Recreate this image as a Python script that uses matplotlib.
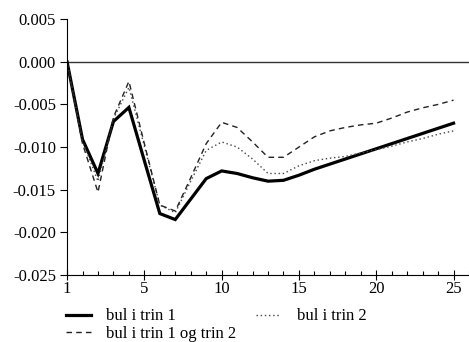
import numpy as np
import matplotlib
matplotlib.use('Agg')
import matplotlib.pyplot as plt
from matplotlib.ticker import MultipleLocator

plt.rcParams['font.family'] = ['Liberation Serif', 'DejaVu Serif']

periods = np.arange(26)

# bul i trin 1
trin1 = [0.0, -0.0091, -0.0131, -0.0070, -0.00535, -0.0116, -0.0178, -0.0185,
         -0.0161, -0.0137, -0.0128, -0.0131, -0.0136, -0.0140, -0.0139, -0.0133,
         -0.0126, -0.0120, -0.0114, -0.0108, -0.0102, -0.0096, -0.0090, -0.0084,
         -0.0078, -0.0072]

# bul i trin 2
trin2 = [0.0, -0.0093, -0.0140, -0.0067, -0.0030, -0.0099, -0.0168, -0.0177,
         -0.0140, -0.0104, -0.0094, -0.0100, -0.0114, -0.0131, -0.0131, -0.0122,
         -0.0116, -0.0113, -0.0111, -0.0107, -0.0103, -0.0099, -0.0094, -0.0090,
         -0.0085, -0.0081]

# bul i trin 1 og trin 2
trin12 = [0.0, -0.0096, -0.0153, -0.0065, -0.0023, -0.0096, -0.0168, -0.0175,
          -0.0136, -0.0096, -0.0071, -0.0077, -0.0094, -0.0112, -0.0112, -0.0100,
          -0.0088, -0.0081, -0.0077, -0.0074, -0.0072, -0.0066, -0.0059, -0.0054,
          -0.0050, -0.0045]

xtick_pos = [0, 5, 10, 15, 20, 25]
xtick_labels = ['1', '5', '10', '15', '20', '25']
ytick_vals = [0.005, 0.0, -0.005, -0.010, -0.015, -0.020, -0.025]
ytick_labels = ['0.005', '0.000', '-0.005', '-0.010', '-0.015', '-0.020', '-0.025']

fig = plt.figure(figsize=(4.69, 3.42), dpi=100)
ax = fig.add_axes([0.143, 0.196, 0.857, 0.748])

ax.axhline(0, color='#333333', lw=1.0, zorder=1)
l1, = ax.plot(periods, trin1, color='black', lw=2.3, solid_joinstyle='miter',
              label='bul i trin 1')
l2, = ax.plot(periods, trin2, color='#444444', lw=1.0, ls=(0, (1, 2)),
              label='bul i trin 2')
l3, = ax.plot(periods, trin12, color='#222222', lw=1.0, ls=(0, (4, 3)),
              label='bul i trin 1 og trin 2')

ax.set_xlim(0, 26)
ax.set_ylim(-0.025, 0.005)
ax.set_xticks(xtick_pos)
ax.set_xticklabels(xtick_labels)
ax.xaxis.set_minor_locator(MultipleLocator(1))
ax.set_yticks(ytick_vals)
ax.set_yticklabels(ytick_labels)

for s in ['top', 'right']:
    ax.spines[s].set_visible(False)
ax.spines['left'].set_linewidth(0.8)
ax.spines['bottom'].set_linewidth(0.8)

ax.tick_params(axis='x', which='major', direction='inout', length=7,
               width=0.8, labelsize=12, pad=1)
ax.tick_params(axis='x', which='minor', direction='in', length=3, width=0.8)
ax.tick_params(axis='y', which='major', direction='out', length=5,
               width=0.8, labelsize=12, pad=3)

fig.legend(handles=[l1, l3, l2], loc='upper left',
           bbox_to_anchor=(0.14, 0.098), ncol=2, frameon=False,
           fontsize=12, handlelength=1.5, handletextpad=0.95,
           columnspacing=1.15, labelspacing=0.08, borderpad=0,
           borderaxespad=0)

fig.savefig('out.png', dpi=100)
